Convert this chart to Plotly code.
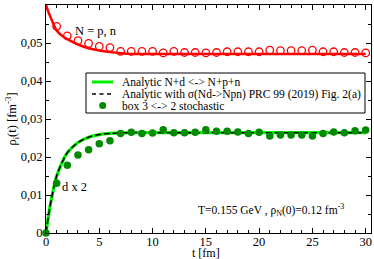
import plotly.graph_objects as go

# ---------------- data ----------------
# red open circles (N = p, n), stochastic box, t = 1..30
n_box_t = list(range(1, 31))
n_box = [0.0544, 0.0519, 0.0506, 0.0499, 0.0491, 0.0488, 0.0478, 0.0478, 0.0478, 0.0478,
         0.0474, 0.0478, 0.0475, 0.0475, 0.0474, 0.0475, 0.0477, 0.0477, 0.0477, 0.0477,
         0.0481, 0.0480, 0.0480, 0.0480, 0.0481, 0.0477, 0.0477, 0.0475, 0.0475, 0.0474]
# red analytic curve
n_an_t = [0, 0.25, 0.5, 1, 1.5, 2, 3, 4, 5, 6, 7, 8, 10, 15, 20, 25, 30]
n_an = [0.0600, 0.0580, 0.0563, 0.0533, 0.0519, 0.0510, 0.0496, 0.0486, 0.0480, 0.0476,
        0.0473, 0.0471, 0.0471, 0.0471, 0.0471, 0.0471, 0.0471]
# green analytic curve (d x 2)
d_an_t = [0, 0.25, 0.5, 1, 1.5, 2, 3, 4, 5, 6, 8, 10, 15, 20, 25, 30]
d_an = [0.0, 0.0048, 0.0088, 0.0150, 0.0185, 0.0211, 0.0238, 0.0252, 0.0259, 0.0262,
        0.0264, 0.0264, 0.0264, 0.0264, 0.0264, 0.0264]
# green filled circles (d x 2), stochastic box
d_box_t = list(range(0, 31))
d_box = [0.0, 0.0131, 0.0178, 0.0205, 0.0219, 0.0235, 0.0243, 0.0262, 0.0265, 0.0262, 0.0263,
         0.0272, 0.0264, 0.0264, 0.0265, 0.0272, 0.0268, 0.0268, 0.0266, 0.0262, 0.0265,
         0.0255, 0.0258, 0.0258, 0.0258, 0.0255, 0.0262, 0.0266, 0.0264, 0.0269, 0.0271]

x_tickvals = [0, 5, 10, 15, 20, 25, 30]
y_tickvals = [0, 0.01, 0.02, 0.03, 0.04, 0.05, 0.06]
y_ticktext = ["0", "0,01", "0,02", "0,03", "0,04", "0,05", "0,06"]

legend_labels = ["Analytic N+d <-> N+p+n",
                 "Analytic with σ(Nd->Npn) PRC 99 (2019) Fig. 2(a)",
                 "box 3 <-> 2 stochastic"]

FONT = "Liberation Serif"
RED = "#ff0000"
LIME = "#00ee00"
DKGREEN = "#008a00"

fig = go.Figure()
fig.add_trace(go.Scatter(x=n_an_t, y=n_an, mode="lines", line=dict(color=RED, width=2.5, shape="spline"),
                         showlegend=False))
fig.add_trace(go.Scatter(x=n_box_t, y=n_box, mode="markers",
                         marker=dict(symbol="circle-open", size=7.5, color=RED, line=dict(width=1.3)),
                         showlegend=False))
fig.add_trace(go.Scatter(x=d_an_t, y=d_an, mode="lines", line=dict(color=LIME, width=3.2, shape="spline"),
                         showlegend=False))
fig.add_trace(go.Scatter(x=d_an_t, y=d_an, mode="lines",
                         line=dict(color="black", width=1.5, dash="6px,3px", shape="spline"),
                         showlegend=False))
fig.add_trace(go.Scatter(x=d_box_t, y=d_box, mode="markers",
                         marker=dict(symbol="circle", size=7.5, color=DKGREEN),
                         showlegend=False, cliponaxis=False))

# plot area in pixels
L, R, T, B = 46, 371, 5, 233
def px(x):
    return (x - L) / (R - L)
def py(y):
    return (B - y) / (B - T)

shapes = []
annotations = []
# manual legend box
shapes.append(dict(type="rect", xref="paper", yref="paper", x0=px(86), x1=px(365), y0=py(113), y1=py(73),
                   line=dict(color="black", width=1), fillcolor="white", layer="above"))
rows = [82, 94, 105.5]
shapes.append(dict(type="line", xref="paper", yref="paper", x0=px(92), x1=px(113), y0=py(rows[0]), y1=py(rows[0]),
                   line=dict(color=LIME, width=3), layer="above"))
shapes.append(dict(type="line", xref="paper", yref="paper", x0=px(92), x1=px(113), y0=py(rows[1]), y1=py(rows[1]),
                   line=dict(color="black", width=1.5, dash="4px,3.5px"), layer="above"))
shapes.append(dict(type="circle", xref="paper", yref="paper", xsizemode="pixel", ysizemode="pixel",
                   xanchor=px(102.7), yanchor=py(rows[2]), x0=-3.5, x1=3.5, y0=-3.5, y1=3.5,
                   fillcolor=DKGREEN, line=dict(color=DKGREEN, width=0), layer="above"))
for lbl, r in zip(legend_labels, rows):
    annotations.append(dict(text=lbl, xref="paper", yref="paper", x=px(120), y=py(r), xanchor="left",
                            yanchor="middle", showarrow=False, font=dict(family=FONT, size=11.5, color="black")))

annotations.append(dict(text="N = p, n", x=4.65, y=0.0532, showarrow=False,
                        font=dict(family=FONT, size=12.5, color="black")))
annotations.append(dict(text="d x 2", x=2.7, y=0.0122, showarrow=False,
                        font=dict(family=FONT, size=12.5, color="black")))
annotations.append(dict(text="T=0.155 GeV , ρ<sub>N</sub>(0)=0.12 fm<sup>-3</sup>", x=21.1, y=0.0061,
                        showarrow=False, font=dict(family=FONT, size=11.5, color="black")))
# x axis title
annotations.append(dict(text="t [fm]", x=15, xref="x", yref="paper", y=py(253.5), yanchor="middle",
                        showarrow=False, font=dict(family=FONT, size=12, color="black")))

axis_common = dict(showgrid=False, zeroline=False, showline=True, linecolor="black", linewidth=1,
                   mirror="ticks", ticks="inside", ticklen=5, tickwidth=1, tickcolor="black",
                   tickfont=dict(family=FONT, size=12.5, color="black"), automargin=False)

fig.update_layout(
    width=374, height=259,
    margin=dict(l=L, r=374 - R, t=T, b=259 - B, autoexpand=False),
    paper_bgcolor="white", plot_bgcolor="white",
    font=dict(family=FONT, color="black"),
    showlegend=False,
    shapes=shapes, annotations=annotations,
    xaxis=dict(range=[0, 30.5], tickvals=x_tickvals, ticklabelstandoff=-3,
               minor=dict(dtick=1, ticks="inside", ticklen=3, tickcolor="black"),
               **axis_common),
    yaxis=dict(range=[0, 0.06], tickvals=y_tickvals, ticktext=y_ticktext,
               minor=dict(dtick=0.005, ticks="inside", ticklen=3, tickcolor="black"),
               title=dict(text="ρ<sub>i</sub>(t) [fm<sup>-3</sup>]", font=dict(family=FONT, size=12.5, color="black"),
                          standoff=0),
               **axis_common),
)

fig.write_html("out.html", config={"displayModeBar": False},
               post_script="document.body.style.margin='0';document.body.style.overflow='hidden';")
